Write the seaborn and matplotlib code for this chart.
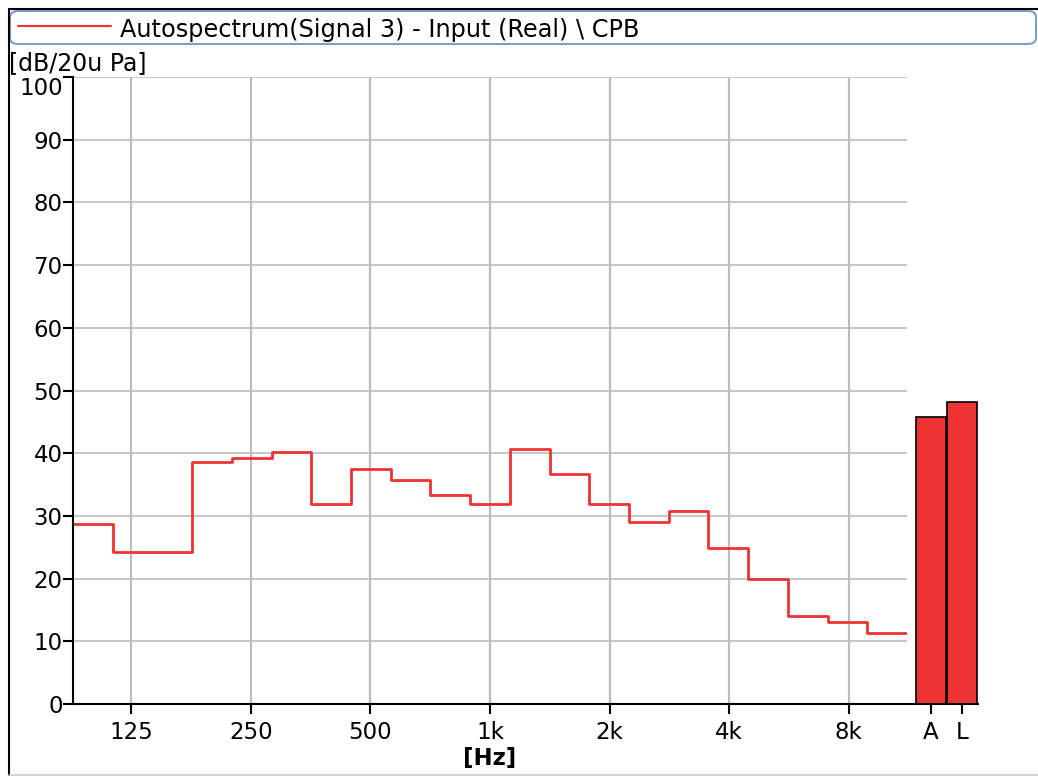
import numpy as np
import pandas as pd
import matplotlib
matplotlib.use("Agg")
import matplotlib.pyplot as plt
import seaborn as sns
from matplotlib.patches import FancyBboxPatch
from matplotlib.lines import Line2D

# ---- data ----
band_centers = [100, 125, 160, 200, 250, 315, 400, 500, 630, 800, 1000,
                1250, 1600, 2000, 2500, 3150, 4000, 5000, 6300, 8000, 10000]
band_levels = [28.7, 24.2, 24.3, 38.6, 39.2, 40.25, 31.95, 37.5, 35.8, 33.4, 31.85,
               40.7, 36.7, 31.9, 29.1, 30.8, 24.9, 19.9, 14.1, 13.0, 11.3]
overall_labels = ["A", "L"]
overall_levels = [45.7, 48.1]
x_tick_values = [125, 250, 500, 1000, 2000, 4000, 8000]
x_tick_labels = ["125", "250", "500", "1k", "2k", "4k", "8k"]
y_tick_values = list(range(0, 101, 10))
title_text = "Autospectrum(Signal 3) - Input (Real) \\ CPB"
y_unit = "[dB/20u Pa]"
x_unit = "[Hz]"

# ---- styling ----
sns.set_style("white")
plt.rcParams['font.family'] = ['DejaVu Sans']
plt.rcParams['text.color'] = 'black'
plt.rcParams['xtick.labelcolor'] = 'black'
plt.rcParams['ytick.labelcolor'] = 'black'
RED = "#ee3333"
GRID = "#bdbdbd"
W, H = 1038, 776
TICK_FS = 16.5

def fx(px):
    return px / W

def fy(py):
    return 1 - py / H

fig = plt.figure(figsize=(W / 100, H / 100), dpi=100)

# band edges (base-10 third octaves)
n = np.round(10 * np.log10(band_centers))
lower = 10 ** (0.1 * n - 0.05)
upper = 10 ** (0.1 * n + 0.05)
edges = list(lower) + [upper[-1]]
df = pd.DataFrame({"f": edges, "L": band_levels + [band_levels[-1]]})

# main spectrum axes
ax1 = fig.add_axes([fx(73), fy(704), fx(907) - fx(73), fy(77) - fy(704)])
ax1.set_xscale("log")
sns.lineplot(data=df, x="f", y="L", drawstyle="steps-post", color=RED,
             lw=2.0, ax=ax1, sort=True)
ax1.set_xlim(edges[0], edges[-1])
ax1.set_ylim(0, 100)
ax1.set_xticks(x_tick_values)
ax1.set_xticklabels(x_tick_labels)
ax1.minorticks_off()
ax1.set_yticks(y_tick_values)
ax1.set_xlabel("")
ax1.set_ylabel("")
ax1.grid(axis="x", color=GRID, lw=1.6)
ax1.grid(axis="y", color=GRID, lw=1.2)
ax1.set_axisbelow(True)
for s in ["top", "right"]:
    ax1.spines[s].set_visible(False)
for s in ["left", "bottom"]:
    ax1.spines[s].set_color("black")
    ax1.spines[s].set_linewidth(1.5)
ax1.tick_params(axis="both", direction="out", length=7, width=1.5,
                color="black", labelsize=TICK_FS, labelcolor="black")
ax1.tick_params(axis="y", pad=0.5)
ax1.tick_params(axis="x", pad=5)
ax1.tick_params(bottom=True, left=True)
# top y label sits just below its tick, as in the reference
ax1.yaxis.get_major_ticks()[-1].label1.set_verticalalignment("top")

# overall levels axes
ax2 = fig.add_axes([fx(907), fy(704), fx(978) - fx(907), fy(77) - fy(704)])
bdf = pd.DataFrame({"k": overall_labels, "v": overall_levels})
sns.barplot(data=bdf, x="k", y="v", color=RED, saturation=1, width=0.95,
            edgecolor="black", linewidth=1.2, ax=ax2)
ax2.set_xlim(-0.774, 1.516)
ax2.set_ylim(0, 100)
ax2.set_yticks([])
ax2.set_xlabel("")
ax2.set_ylabel("")
for s in ["top", "right", "left"]:
    ax2.spines[s].set_visible(False)
ax2.spines["bottom"].set_color("black")
ax2.spines["bottom"].set_linewidth(1.5)
ax2.tick_params(axis="x", direction="out", length=7, width=1.5, color="black",
                labelsize=TICK_FS, labelcolor="black", pad=5, bottom=True)

# texts
fig.text(fx(9), fy(63), y_unit, fontsize=17, ha="left", va="center", color="black")
fig.text(fx(490), fy(758), x_unit, fontsize=16.5, ha="center", va="center",
         fontweight="bold", color="black")

# legend / title box
box = FancyBboxPatch((fx(10), fy(44)), fx(1036) - fx(10), fy(11) - fy(44),
                     boxstyle="round,pad=0,rounding_size=0.008",
                     transform=fig.transFigure, facecolor="white",
                     edgecolor="#7d9dc4", lw=1.5)
fig.add_artist(box)
fig.add_artist(Line2D([fx(18), fx(111)], [fy(26), fy(26)], color=RED, lw=1.5,
                      transform=fig.transFigure))
fig.text(fx(120), fy(30), title_text, fontsize=17.3, ha="left", va="center",
         color="black")

# window frame
fig.add_artist(Line2D([fx(9), fx(1038)], [fy(9), fy(9)], color="black", lw=1.5,
                      transform=fig.transFigure))
fig.add_artist(Line2D([fx(9), fx(9)], [fy(9), fy(775)], color="black", lw=1.5,
                      transform=fig.transFigure))
fig.add_artist(Line2D([fx(9), fx(1038)], [fy(775), fy(775)], color="#cccccc", lw=1.2,
                      transform=fig.transFigure))

fig.savefig("out.png", dpi=100)
